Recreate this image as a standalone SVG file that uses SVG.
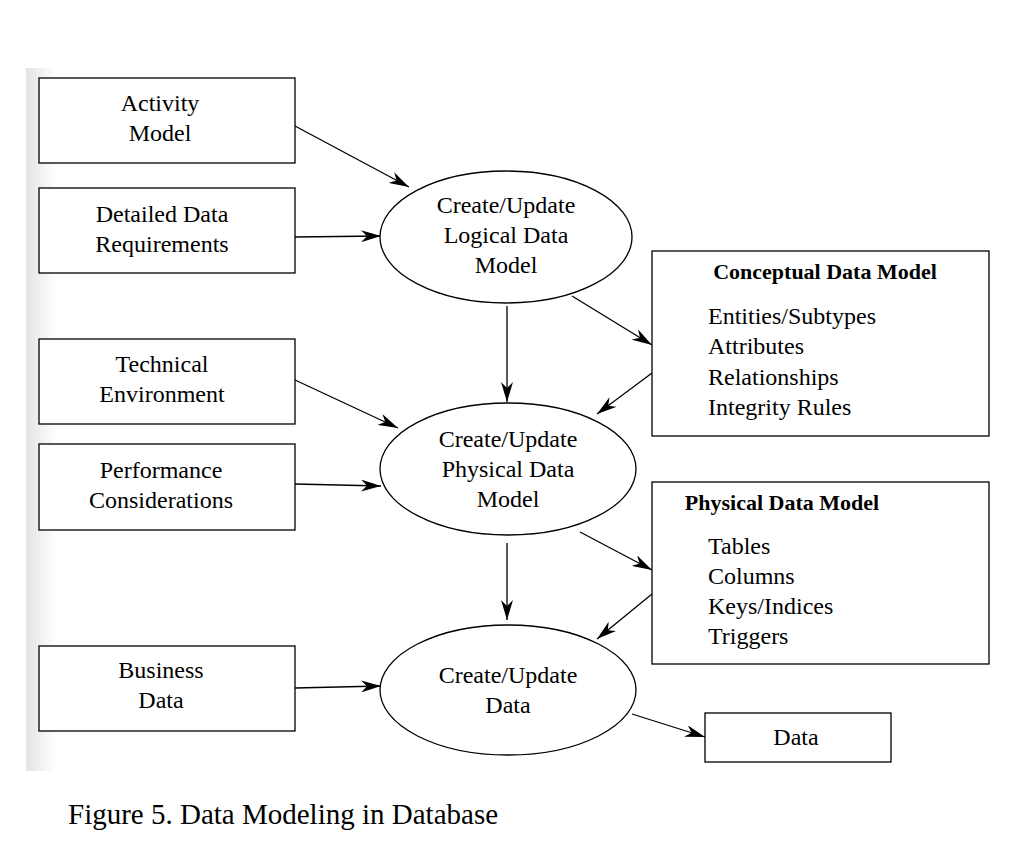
<svg xmlns="http://www.w3.org/2000/svg" width="1018" height="850" viewBox="0 0 1018 850">
<defs>
<linearGradient id="strip" x1="0" x2="1" y1="0" y2="0">
<stop offset="0" stop-color="#e4e4e4"/>
<stop offset="1" stop-color="#ffffff"/>
</linearGradient>
<marker id="ah" viewBox="0 0 20 12" refX="20" refY="6" markerWidth="20" markerHeight="12" markerUnits="userSpaceOnUse" orient="auto">
<path d="M0,0 L20,6 L0,12 L6,6 Z" fill="#000"/>
</marker>
<style>
.box{fill:#fff;stroke:#000;stroke-width:1.3}
.ell{fill:#fff;stroke:#000;stroke-width:1.3}
.t{font-family:"Liberation Serif","Times New Roman",serif;font-size:24px;fill:#000}
.c{text-anchor:middle}
.b{font-weight:bold;font-size:22px}
.ln{stroke:#000;stroke-width:1.3;fill:none;marker-end:url(#ah)}
</style>
</defs>
<rect x="0" y="0" width="1018" height="850" fill="#fff"/>
<rect x="26" y="68" width="30" height="703" fill="url(#strip)"/>

<g id="connectors">
<line class="ln" x1="295" y1="126" x2="409" y2="187"/>
<line class="ln" x1="295" y1="237" x2="381" y2="236"/>
<line class="ln" x1="507" y1="306" x2="507" y2="402"/>
<line class="ln" x1="572" y1="296" x2="652" y2="345"/>
<line class="ln" x1="652" y1="373" x2="597" y2="414"/>
<line class="ln" x1="295" y1="380" x2="398" y2="428"/>
<line class="ln" x1="295" y1="484" x2="381" y2="486"/>
<line class="ln" x1="580" y1="532" x2="652" y2="570"/>
<line class="ln" x1="507" y1="543" x2="507" y2="620"/>
<line class="ln" x1="652" y1="594" x2="597" y2="639"/>
<line class="ln" x1="295" y1="688" x2="381" y2="686"/>
<line class="ln" x1="632" y1="714" x2="705" y2="737"/>
</g>

<g id="activity-model">
<rect class="box" x="39" y="78" width="256" height="85"/>
<text class="t c" x="160" y="111">Activity</text>
<text class="t c" x="160" y="141">Model</text>
</g>
<g id="detailed-data-requirements">
<rect class="box" x="39" y="188" width="256" height="85"/>
<text class="t c" x="162" y="222">Detailed Data</text>
<text class="t c" x="162" y="252">Requirements</text>
</g>
<g id="technical-environment">
<rect class="box" x="39" y="339" width="256" height="85"/>
<text class="t c" x="162" y="372">Technical</text>
<text class="t c" x="162" y="402">Environment</text>
</g>
<g id="performance-considerations">
<rect class="box" x="39" y="444" width="256" height="86"/>
<text class="t c" x="161" y="478">Performance</text>
<text class="t c" x="161" y="508">Considerations</text>
</g>
<g id="business-data">
<rect class="box" x="39" y="646" width="256" height="85"/>
<text class="t c" x="161" y="678">Business</text>
<text class="t c" x="161" y="708">Data</text>
</g>

<g id="create-logical">
<ellipse class="ell" cx="506" cy="237" rx="126" ry="66"/>
<text class="t c" x="506" y="213">Create/Update</text>
<text class="t c" x="506" y="243">Logical Data</text>
<text class="t c" x="506" y="273">Model</text>
</g>
<g id="create-physical">
<ellipse class="ell" cx="508" cy="469" rx="128" ry="66"/>
<text class="t c" x="508" y="447">Create/Update</text>
<text class="t c" x="508" y="477">Physical Data</text>
<text class="t c" x="508" y="507">Model</text>
</g>
<g id="create-data">
<ellipse class="ell" cx="508" cy="690" rx="128" ry="65"/>
<text class="t c" x="508" y="683">Create/Update</text>
<text class="t c" x="508" y="713">Data</text>
</g>

<g id="conceptual-data-model">
<rect class="box" x="652" y="251" width="337" height="185"/>
<text class="t c b" x="825" y="279">Conceptual Data Model</text>
<text class="t" x="708" y="324">Entities/Subtypes</text>
<text class="t" x="708" y="354">Attributes</text>
<text class="t" x="708" y="385">Relationships</text>
<text class="t" x="708" y="415">Integrity Rules</text>
</g>
<g id="physical-data-model">
<rect class="box" x="652" y="482" width="337" height="182"/>
<text class="t c b" x="782" y="510">Physical Data Model</text>
<text class="t" x="708" y="554">Tables</text>
<text class="t" x="708" y="584">Columns</text>
<text class="t" x="708" y="614">Keys/Indices</text>
<text class="t" x="708" y="644">Triggers</text>
</g>
<g id="data">
<rect class="box" x="705" y="713" width="186" height="49"/>
<text class="t c" x="796" y="745">Data</text>
</g>

<text class="t" x="68" y="824" style="font-size:29px">Figure 5. Data Modeling in Database</text>
</svg>
